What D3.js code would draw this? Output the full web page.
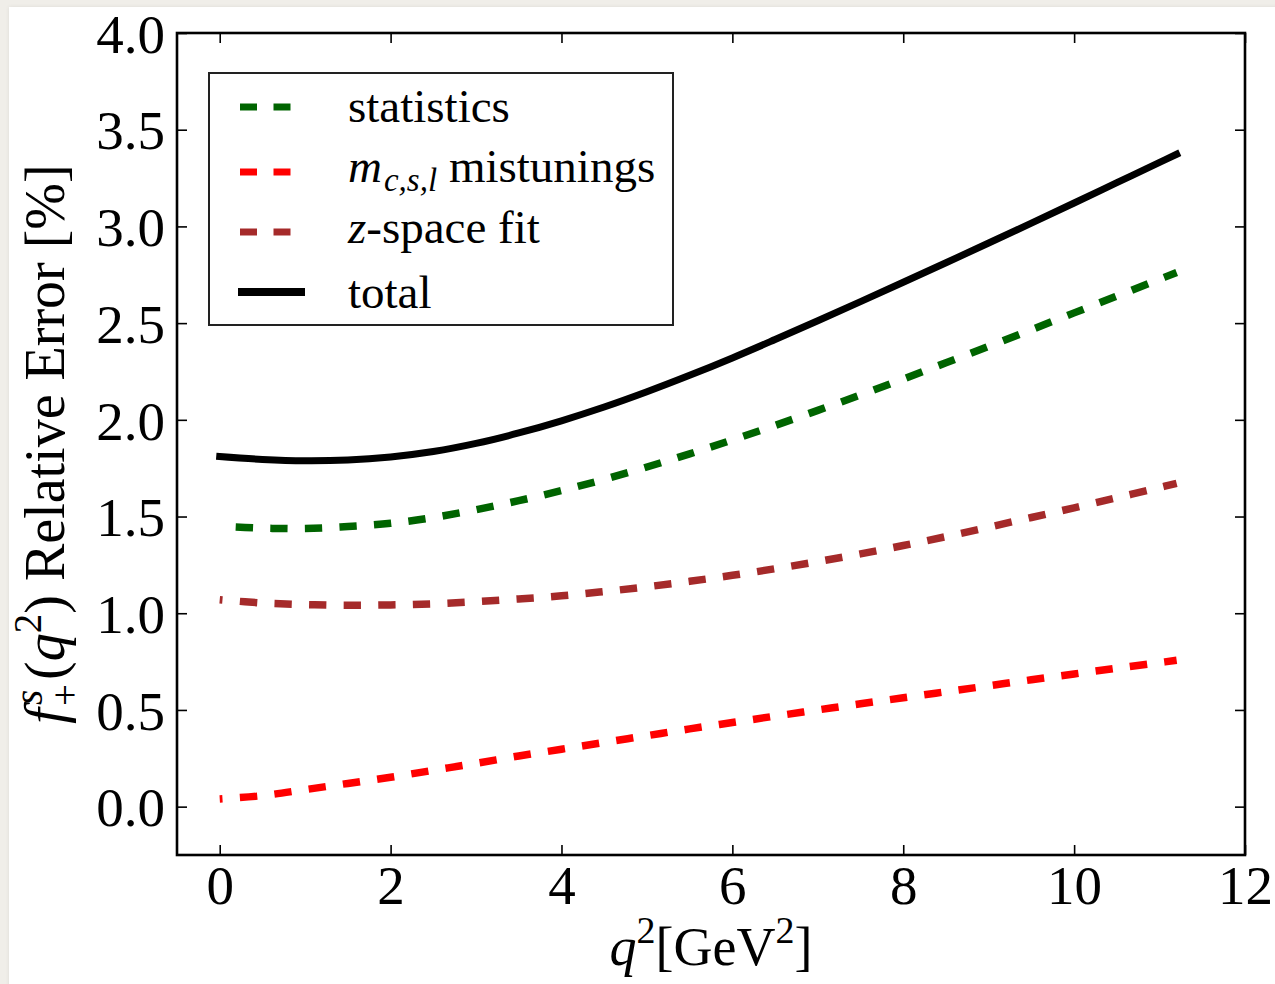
<!DOCTYPE html>
<html>
<head>
<meta charset="utf-8">
<script src="https://cdn.jsdelivr.net/npm/d3@7/dist/d3.min.js"></script>
<style>
  html, body { margin: 0; padding: 0; }
  body { width: 1275px; height: 984px; background: #f0eee9; overflow: hidden; position: relative; }
  #card { position: absolute; left: 9px; top: 7px; width: 1275px; height: 984px; background: #fff;
          box-shadow: 0 0 4px rgba(0,0,0,0.08); }
  svg { position: absolute; left: 0; top: 0; }
  text { font-family: "Liberation Serif", "Times New Roman", serif; fill: #000; }
</style>
</head>
<body>
<div id="card"></div>
<svg id="chart" width="1275" height="984"></svg>
<script>
// q^2 sample points [GeV^2]
const q2 = [0, 0.5, 1, 1.5, 2, 2.5, 3, 3.5, 4, 4.5, 5, 5.5, 6, 6.5, 7, 7.5, 8, 8.5, 9, 9.5, 10, 10.5, 11, 11.2];
// relative error contributions [%]
const statistics = [1.45, 1.44, 1.438, 1.448, 1.465, 1.495, 1.535, 1.582, 1.634, 1.692, 1.756, 1.824, 1.896, 1.971, 2.049, 2.129, 2.211, 2.295, 2.38, 2.466, 2.553, 2.64, 2.727, 2.762];
const mistunings = [0.04, 0.057, 0.088, 0.12, 0.152, 0.188, 0.224, 0.262, 0.297, 0.332, 0.367, 0.402, 0.435, 0.468, 0.5, 0.532, 0.563, 0.594, 0.625, 0.656, 0.686, 0.716, 0.745, 0.757];
const zspaceFit = [1.07, 1.053, 1.045, 1.041, 1.043, 1.049, 1.06, 1.074, 1.09, 1.112, 1.137, 1.165, 1.196, 1.23, 1.267, 1.307, 1.35, 1.396, 1.445, 1.495, 1.545, 1.597, 1.65, 1.672];
const total = [1.81, 1.795, 1.788, 1.792, 1.808, 1.836, 1.878, 1.932, 1.995, 2.066, 2.145, 2.23, 2.32, 2.415, 2.512, 2.611, 2.711, 2.812, 2.914, 3.017, 3.121, 3.226, 3.331, 3.373];

const xTicks = [0, 2, 4, 6, 8, 10, 12];
const yTicks = [0, 0.5, 1.0, 1.5, 2.0, 2.5, 3.0, 3.5, 4.0];

const svg = d3.select("#chart");
const plotLeft = 177, plotRight = 1245, plotTop = 33, plotBottom = 855;

const x = d3.scaleLinear().domain([-0.5, 12]).range([plotLeft, plotRight]);
const y = d3.scaleLinear().domain([-0.25, 4.0]).range([plotBottom, plotTop]);

const line = d3.line()
  .x(d => x(d[0]))
  .y(d => y(d[1]))
  .curve(d3.curveCatmullRom.alpha(0.5));

const series = [
  { values: statistics, color: "#006400", dash: "17.3,17.3", offset: 18.6, width: 7.5, cap: "butt" },
  { values: mistunings, color: "#ff0000", dash: "17.3,17.3", offset: 14.3, width: 7.5, cap: "butt" },
  { values: zspaceFit, color: "#a52a2a", dash: "17.3,17.3", offset: 14.3, width: 7.5, cap: "butt" },
  { values: total, color: "#000000", dash: null, offset: 0, width: 7, cap: "square" }
];

const plot = svg.append("g");
series.forEach(s => {
  plot.append("path")
    .datum(q2.map((q, i) => [q, s.values[i]]))
    .attr("d", line)
    .attr("fill", "none")
    .attr("stroke", s.color)
    .attr("stroke-width", s.width)
    .attr("stroke-linecap", s.cap)
    .attr("stroke-dasharray", s.dash)
    .attr("stroke-dashoffset", s.offset);
});

// axes: ticks pointing inward on all four sides
const tickLen = 10;
const fmt = d3.format(".1f");

const bottomAxis = d3.axisBottom(x).tickValues(xTicks).tickSizeInner(-tickLen).tickSizeOuter(0).tickPadding(14).tickFormat(d3.format("d"));
const topAxis = d3.axisTop(x).tickValues(xTicks).tickSizeInner(-tickLen).tickSizeOuter(0).tickFormat("");
const leftAxis = d3.axisLeft(y).tickValues(yTicks).tickSizeInner(-tickLen).tickSizeOuter(0).tickPadding(14).tickFormat(fmt);
const rightAxis = d3.axisRight(y).tickValues(yTicks).tickSizeInner(-tickLen).tickSizeOuter(0).tickFormat("");

function styleAxis(g) {
  g.select(".domain").remove();
  g.selectAll(".tick line").attr("stroke", "#000").attr("stroke-width", 1.6);
  g.selectAll(".tick text").attr("font-family", "Liberation Serif, serif").attr("font-size", 55).attr("fill", "#000");
}

svg.append("g").attr("transform", `translate(0,${plotBottom})`).call(bottomAxis).call(styleAxis)
  .selectAll(".tick text").attr("dy", null).attr("y", 49);
svg.append("g").attr("transform", `translate(0,${plotTop})`).call(topAxis).call(styleAxis);
svg.append("g").attr("transform", `translate(${plotLeft},0)`).call(leftAxis).call(styleAxis)
  .selectAll(".tick text").attr("x", -12).attr("dy", "0.35em");
svg.append("g").attr("transform", `translate(${plotRight},0)`).call(rightAxis).call(styleAxis);

// frame
svg.append("rect")
  .attr("x", plotLeft).attr("y", plotTop)
  .attr("width", plotRight - plotLeft).attr("height", plotBottom - plotTop)
  .attr("fill", "none").attr("stroke", "#000").attr("stroke-width", 2.6);

// x-axis label: q^2[GeV^2]
const xl = svg.append("text")
  .attr("x", (plotLeft + plotRight) / 2).attr("y", 965)
  .attr("text-anchor", "middle").attr("font-size", 54);
xl.append("tspan").attr("font-style", "italic").text("q");
xl.append("tspan").attr("font-size", 38).attr("dy", -22).text("2");
xl.append("tspan").attr("dy", 22).text("[GeV");
xl.append("tspan").attr("font-size", 38).attr("dy", -22).text("2");
xl.append("tspan").attr("dy", 22).text("]");

// y-axis label: f^s_+(q^2) Relative Error [%]
const yl = svg.append("text")
  .attr("transform", `translate(64,${(plotTop + plotBottom) / 2}) rotate(-90)`)
  .attr("text-anchor", "middle").attr("font-size", 56);
yl.append("tspan").attr("font-style", "italic").text("f");
yl.append("tspan").attr("font-style", "italic").attr("font-size", 39).attr("dx", 3).attr("dy", -22).text("s");
yl.append("tspan").attr("font-size", 39).attr("dx", -16).attr("dy", 36).text("+");
yl.append("tspan").attr("dx", 4).attr("dy", -14).text("(");
yl.append("tspan").attr("font-style", "italic").text("q");
yl.append("tspan").attr("font-size", 39).attr("dy", -23).text("2");
yl.append("tspan").attr("dy", 23).text(")  Relative Error [%]");

// legend
const legend = svg.append("g");
legend.append("rect")
  .attr("x", 209).attr("y", 73).attr("width", 464).attr("height", 252)
  .attr("fill", "#fff").attr("stroke", "#222").attr("stroke-width", 2);

const legendRows = [
  { s: series[0], hy: 107 },
  { s: series[1], hy: 172 },
  { s: series[2], hy: 232 },
  { s: series[3], hy: 292 }
];
legendRows.forEach(r => {
  legend.append("line")
    .attr("x1", r.s.dash ? 240 : 238).attr("x2", r.s.dash ? 306 : 305)
    .attr("y1", r.hy).attr("y2", r.hy)
    .attr("stroke", r.s.color)
    .attr("stroke-width", r.s.dash ? 7 : 8)
    .attr("stroke-dasharray", r.s.dash ? "17,16.5" : null);
});

const lt = (yy) => legend.append("text").attr("x", 348).attr("y", yy).attr("font-size", 47);
lt(122).text("statistics");
const t2 = lt(182);
t2.append("tspan").attr("font-style", "italic").text("m");
t2.append("tspan").attr("font-style", "italic").attr("font-size", 33).attr("dx", 2).attr("dy", 9).text("c,s,l");
t2.append("tspan").attr("dy", -9).text("  mistunings");
const t3 = lt(243);
t3.append("tspan").attr("font-style", "italic").text("z");
t3.append("tspan").text("-space fit");
lt(308).text("total");
</script>
</body>
</html>
